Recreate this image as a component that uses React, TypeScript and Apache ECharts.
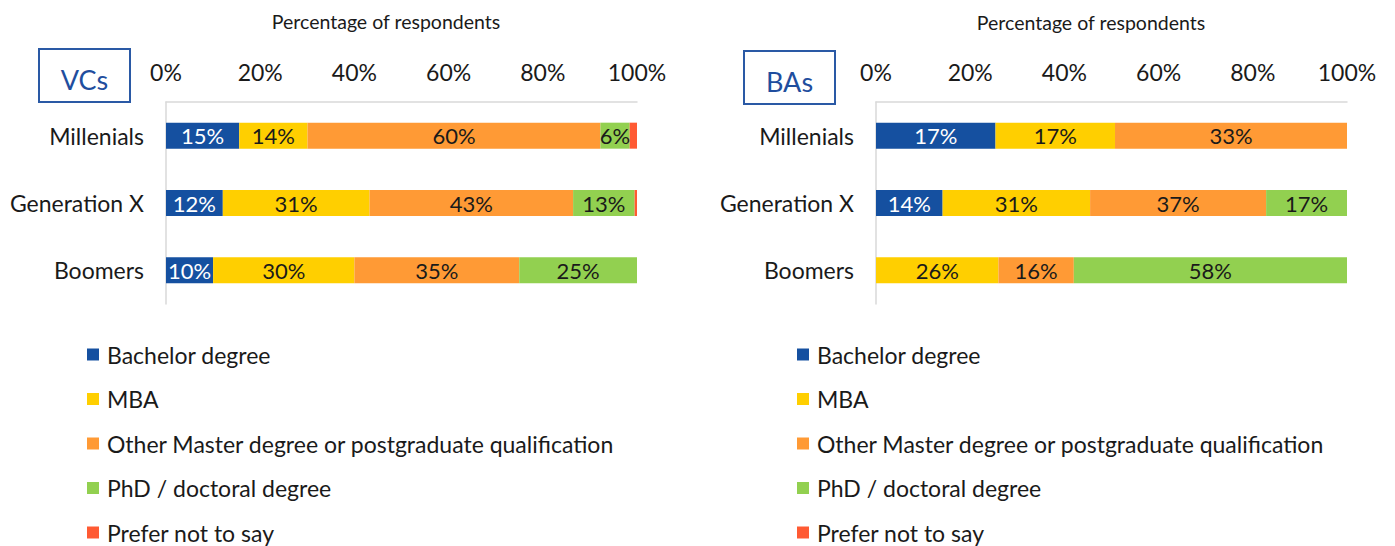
import React, { useEffect, useRef } from "react";
import * as echarts from "echarts";

const categories = ["Millenials", "Generation X", "Boomers"];
const seriesNames = [
  "Bachelor degree",
  "MBA",
  "Other Master degree or postgraduate qualification",
  "PhD / doctoral degree",
  "Prefer not to say",
];
const colors = ["#1550A0", "#FFCF00", "#FF9A35", "#92D050", "#FF5A33"];

// VCs (raw percentages per category, Millenials / Generation X / Boomers)
const vcBachelor = [15, 12, 10];
const vcMBA = [14, 31, 30];
const vcOtherMaster = [60, 43, 35];
const vcPhD = [6, 13, 25];
const vcPreferNot = [1.5, 0.5, 0];

// BAs
const baBachelor = [17, 14, 0];
const baMBA = [17, 31, 26];
const baOtherMaster = [33, 37, 16];
const baPhD = [0, 17, 58];
const baPreferNot = [0, 0, 0];

const xTicks = [0, 20, 40, 60, 80, 100];

const FONT = "Lato, 'Noto Sans', sans-serif";

export default function App() {
  const ref = useRef<HTMLDivElement>(null);

  useEffect(() => {
    if (!ref.current) return;
    const chart = echarts.init(ref.current, undefined, { renderer: "svg" });

    const vc = [vcBachelor, vcMBA, vcOtherMaster, vcPhD, vcPreferNot];
    const ba = [baBachelor, baMBA, baOtherMaster, baPhD, baPreferNot];

    const totals = (groups: number[][]) =>
      categories.map((_, i) => groups.reduce((s, g) => s + g[i], 0));
    const vcTot = totals(vc);
    const baTot = totals(ba);

    const makeSeries = (groups: number[][], tot: number[], idx: number, stack: string) =>
      groups.map((g, si) => ({
        name: seriesNames[si],
        type: "bar",
        stack,
        xAxisIndex: idx,
        yAxisIndex: idx,
        barWidth: 26,
        itemStyle: { color: colors[si] },
        data: g.map((v, i) => (tot[i] ? (v / tot[i]) * 100 : 0)),
        label: {
          show: si < 4,
          position: "inside",
          fontFamily: FONT,
          fontSize: 22,
          color: si === 0 ? "#ffffff" : "#1a1a1a",
          formatter: (p: any) => {
            const raw = g[p.dataIndex];
            return raw > 0 ? `${raw}%` : "";
          },
        },
        emphasis: { disabled: true },
      }));

    const xAxisBase = (gridIndex: number) => ({
      type: "value",
      gridIndex,
      position: "top",
      min: 0,
      max: 100,
      interval: 20,
      axisLine: { show: true, lineStyle: { color: "#d9d9d9", width: 1.5 } },
      axisTick: { show: false },
      splitLine: { show: false },
      axisLabel: {
        formatter: (v: number) => (xTicks.includes(v) ? `${v}%` : ""),
        fontFamily: FONT,
        fontSize: 23,
        color: "#1a1a1a",
        margin: 19,
      },
    });
    const yAxisBase = (gridIndex: number) => ({
      type: "category",
      gridIndex,
      data: categories,
      inverse: true,
      axisLine: { show: true, lineStyle: { color: "#d9d9d9", width: 1.5 } },
      axisTick: { show: false },
      axisLabel: {
        fontFamily: FONT,
        fontSize: 23,
        color: "#1a1a1a",
        margin: 22,
      },
    });

    const legendBase = (left: number) => ({
      orient: "vertical",
      left,
      top: 343,
      height: 203,
      padding: 0,
      itemWidth: 12,
      itemHeight: 12,
      itemGap: 21.5,
      icon: "rect",
      selectedMode: false,
      textStyle: { fontFamily: FONT, fontSize: 23, lineHeight: 23, color: "#1a1a1a", padding: [0, 0, 0, 3] },
      data: seriesNames,
    });

    const box = (x: number, y: number, label: string) => ({
      type: "group",
      left: x,
      top: y,
      children: [
        {
          type: "rect",
          shape: { x: 0, y: 0, width: 91, height: 53 },
          style: { fill: "#fff", stroke: "#2A59A5", lineWidth: 2 },
        },
        {
          type: "text",
          x: 45.5,
          y: 30,
          style: {
            text: label,
            fill: "#1F4E9E",
            font: `27px ${FONT}`,
            textAlign: "center",
            textVerticalAlign: "middle",
          },
        },
      ],
    });

    const title = (cx: number, y: number) => ({
      type: "text",
      x: cx,
      y,
      style: {
        text: "Percentage of respondents",
        fill: "#1a1a1a",
        font: `19.5px ${FONT}`,
        textAlign: "center",
        textVerticalAlign: "middle",
      },
    });

    chart.setOption({
      animation: false,
      grid: [
        { left: 166, top: 102, width: 471, height: 202 },
        { left: 876, top: 102, width: 471, height: 202 },
      ],
      xAxis: [xAxisBase(0), xAxisBase(1)],
      yAxis: [yAxisBase(0), yAxisBase(1)],
      legend: [legendBase(87), legendBase(797)],
      graphic: [box(38, 48, "VCs"), box(743, 50, "BAs"), title(386, 21), title(1091, 22)],
      series: [...makeSeries(vc, vcTot, 0, "vc"), ...makeSeries(ba, baTot, 1, "ba")],
    });

    return () => chart.dispose();
  }, []);

  return (
    <div
      ref={ref}
      style={{ position: "fixed", left: 0, top: 0, width: 1395, height: 546, background: "#fff" }}
    />
  );
}
